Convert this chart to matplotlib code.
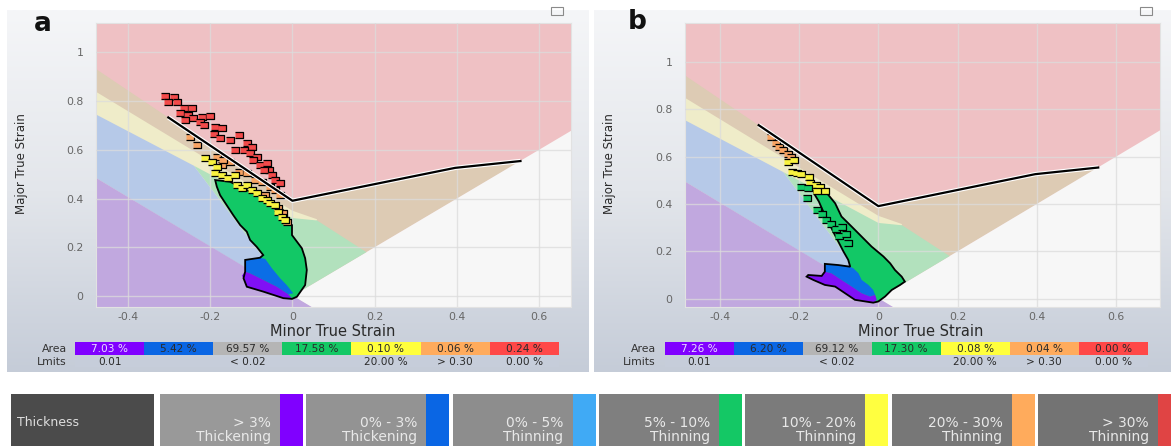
import numpy as np
import matplotlib.pyplot as plt
from matplotlib.patches import Polygon, Rectangle
from matplotlib.colors import LinearSegmentedColormap

W, H = 1171, 446

# ---------------- data ----------------
xticks = [-0.4, -0.2, 0.0, 0.2, 0.4, 0.6]
xtick_labels = ["-0.4", "-0.2", "0", "0.2", "0.4", "0.6"]
yticks = [0.0, 0.2, 0.4, 0.6, 0.8, 1.0]
ytick_labels = ["0", "0.2", "0.4", "0.6", "0.8", "1"]

# forming limit curve (minor, major)
flc_minor = [-0.302, 0.0, 0.396, 0.555]
flc_major = [0.733, 0.391, 0.526, 0.554]

# FLD zones (minor, major) polygons
zone_tan = [(-0.6, 1.07), (0.0, 0.391), (0.396, 0.526), (0.555, 0.554), (0.0, 0.0), (-0.6, -0.2)]
zone_white = [(0.0, 0.0), (0.9, 0.9), (0.9, -0.2), (0.2, -0.2)]
zone_yellow = [(-0.6, 0.963), (0.0, 0.35), (0.06, 0.315), (0.0, 0.0), (-0.6, 0.0)]
zone_green = [(-0.24, 0.535), (0.0, 0.32), (0.06, 0.31), (0.18, 0.18), (0.0, 0.0)]
zone_blue = [(-0.6, 0.853), (-0.24, 0.535), (0.0, 0.0), (-0.6, 0.608)]
zone_purple = [(-0.6, 0.608), (0.2, -0.2), (-0.6, -0.2)]

# panel a: measured strain cloud
blob_a = [(-0.188, 0.476), (-0.152, 0.469), (-0.103, 0.428), (-0.070, 0.401), (-0.038, 0.373),
          (-0.018, 0.346), (-0.014, 0.305), (-0.001, 0.291), (-0.001, 0.250), (0.011, 0.223),
          (0.023, 0.196), (0.031, 0.155), (0.035, 0.107), (0.031, 0.045), (0.011, -0.003),
          (-0.001, -0.012), (-0.022, -0.009), (-0.071, 0.018), (-0.111, 0.038), (-0.119, 0.073),
          (-0.115, 0.100), (-0.115, 0.148), (-0.079, 0.157), (-0.071, 0.168), (-0.087, 0.202),
          (-0.103, 0.230), (-0.111, 0.264), (-0.127, 0.291), (-0.144, 0.332), (-0.160, 0.373),
          (-0.176, 0.414), (-0.184, 0.449)]
blue_a = [(-0.115, 0.148), (-0.079, 0.157), (-0.066, 0.152), (-0.050, 0.114), (-0.030, 0.073),
          (-0.014, 0.045), (0.002, 0.011), (-0.010, 0.007), (-0.038, 0.038), (-0.071, 0.066),
          (-0.103, 0.093), (-0.115, 0.100)]
purple_a = [(-0.115, 0.100), (-0.103, 0.093), (-0.071, 0.066), (-0.038, 0.038), (-0.010, 0.007),
            (-0.001, -0.010), (-0.022, -0.009), (-0.071, 0.018), (-0.111, 0.038), (-0.119, 0.073),
            (-0.123, 0.083)]
red_a_minor = [-0.310, -0.289, -0.281, -0.302, -0.265, -0.245, -0.273, -0.253, -0.241, -0.261,
               -0.220, -0.200, -0.225, -0.216, -0.188, -0.172, -0.192, -0.176, -0.151, -0.131,
               -0.111, -0.099, -0.119, -0.139, -0.103, -0.086, -0.095, -0.078, -0.062, -0.058,
               -0.070, -0.050, -0.042, -0.030]
red_a_major = [0.822, 0.818, 0.797, 0.797, 0.770, 0.770, 0.750, 0.743, 0.729, 0.722,
               0.736, 0.740, 0.715, 0.702, 0.695, 0.688, 0.667, 0.647, 0.640, 0.661,
               0.627, 0.613, 0.599, 0.599, 0.585, 0.572, 0.558, 0.537, 0.544, 0.517,
               0.517, 0.496, 0.476, 0.462]
orange_a_minor = [-0.249, -0.232, -0.184, -0.172, -0.151, -0.131, -0.111, -0.091, -0.075,
                  -0.054, -0.042, -0.030, -0.066, -0.034, -0.022, -0.014, -0.168]
orange_a_major = [0.654, 0.620, 0.572, 0.537, 0.551, 0.510, 0.503, 0.476, 0.469,
                  0.449, 0.435, 0.414, 0.414, 0.360, 0.339, 0.305, 0.558]
yellow_a_minor = [-0.212, -0.196, -0.184, -0.188, -0.172, -0.156, -0.139, -0.135, -0.123, -0.111,
                  -0.099, -0.086, -0.075, -0.062, -0.054, -0.042, -0.034, -0.026, -0.018]
yellow_a_major = [0.565, 0.551, 0.531, 0.503, 0.496, 0.483, 0.496, 0.455, 0.442, 0.455,
                  0.435, 0.421, 0.401, 0.394, 0.380, 0.373, 0.346, 0.325, 0.312]

# panel b: measured strain cloud
blob_b = [(-0.164, 0.456), (-0.139, 0.459), (-0.126, 0.438), (-0.109, 0.403), (-0.093, 0.347),
          (-0.067, 0.304), (-0.042, 0.262), (-0.017, 0.220), (0.013, 0.178), (0.030, 0.149),
          (0.042, 0.121), (0.059, 0.093), (0.067, 0.072), (0.055, 0.058), (0.034, 0.037),
          (0.017, 0.009), (0.000, -0.012), (-0.013, -0.017), (-0.059, -0.005), (-0.084, 0.023),
          (-0.109, 0.051), (-0.135, 0.058), (-0.164, 0.079), (-0.181, 0.093), (-0.177, 0.100),
          (-0.143, 0.096), (-0.135, 0.114), (-0.135, 0.147), (-0.101, 0.142), (-0.071, 0.135),
          (-0.076, 0.164), (-0.088, 0.199), (-0.101, 0.241), (-0.114, 0.283), (-0.126, 0.325),
          (-0.139, 0.368), (-0.150, 0.410), (-0.160, 0.438)]
blue_b = [(-0.135, 0.147), (-0.101, 0.142), (-0.071, 0.135), (-0.063, 0.128), (-0.050, 0.107),
          (-0.042, 0.079), (-0.025, 0.058), (-0.013, 0.037), (-0.008, 0.016), (-0.021, 0.009),
          (-0.042, 0.023), (-0.067, 0.051), (-0.093, 0.079), (-0.118, 0.107), (-0.135, 0.114)]
purple_b = [(-0.181, 0.093), (-0.177, 0.100), (-0.143, 0.096), (-0.135, 0.114), (-0.118, 0.107),
            (-0.093, 0.079), (-0.067, 0.051), (-0.042, 0.023), (-0.021, 0.009), (-0.008, 0.016),
            (-0.004, -0.005), (-0.013, -0.017), (-0.059, -0.005), (-0.084, 0.023), (-0.109, 0.051),
            (-0.135, 0.058), (-0.164, 0.079)]
orange_b_minor = [-0.271, -0.259, -0.251, -0.240, -0.229, -0.221]
orange_b_major = [0.682, 0.659, 0.642, 0.628, 0.611, 0.597]
yellow_b_minor = [-0.227, -0.212, -0.219, -0.206, -0.195, -0.175, -0.172, -0.158, -0.146, -0.135, -0.155]
yellow_b_major = [0.579, 0.586, 0.537, 0.532, 0.527, 0.516, 0.490, 0.479, 0.471, 0.456, 0.456]
green_b_minor = [-0.194, -0.177, -0.181, -0.156, -0.143, -0.133, -0.119, -0.108, -0.091, -0.099, -0.082, -0.076]
green_b_major = [0.473, 0.466, 0.424, 0.375, 0.358, 0.333, 0.316, 0.293, 0.302, 0.265, 0.273, 0.237]

# thickness tables
area_a = [7.03, 5.42, 69.57, 17.58, 0.10, 0.06, 0.24]
area_b = [7.26, 6.20, 69.12, 17.30, 0.08, 0.04, 0.00]
limit_text = ["0.01", "", "< 0.02", "", "20.00 %", "> 0.30", "0.00 %"]

legend_top = ["> 3%", "0% - 3%", "0% - 5%", "5% - 10%", "10% - 20%", "20% - 30%", "> 30%"]
legend_bottom = ["Thickening", "Thickening", "Thinning", "Thinning", "Thinning", "Thinning", "Thinning"]

# ---------------- styles ----------------
C_PINK, C_TAN, C_YEL, C_GRN = "#efc1c4", "#ddcbb4", "#efecc9", "#b2e1bd"
C_BLUE, C_PURP, C_WHITE = "#b6c9e8", "#c1a8df", "#f7f7f7"
cell_colors = ["#8000ff", "#0a66e4", "#b5b5b5", "#14c865", "#ffff3c", "#ffab5c", "#ff4848"]
strip_colors = ["#8000ff", "#0a66e4", "#40aaf5", "#14c865", "#ffff40", "#ffab5c", "#e04444"]
box_grays = ["#999999", "#939393", "#8d8d8d", "#7f7f7f", "#7b7b7b", "#777777", "#737373"]
cell_marker = [(-1.2, -1), (1.2, -1), (1.2, 1), (-1.2, 1)]

fig = plt.figure(figsize=(W / 100, H / 100), dpi=100)

ov = fig.add_axes([0, 0, 1, 1])
ov.set_zorder(0)
ov.axis("off")

bg = LinearSegmentedColormap.from_list("bg", ["#f5f6f8", "#e3e6eb", "#c5ccd8"])
grad = np.linspace(0, 1, 256)[:, None]
ov.imshow(grad, extent=(7, 589, 372, 10), aspect="auto", cmap=bg)
ov.imshow(grad, extent=(594, 1171, 372, 10), aspect="auto", cmap=bg)
ov.set_xlim(0, W)
ov.set_ylim(H, 0)


def px_rect(l, t, w, h):
    return [l / W, 1 - (t + h) / H, w / W, h / H]


def draw_panel(rect, xlim, ylim, blob, blue, purple, squares):
    ax = fig.add_axes(px_rect(*rect))
    ax.set_zorder(1)
    ax.set_facecolor(C_PINK)
    for poly, col in [(zone_tan, C_TAN), (zone_white, C_WHITE), (zone_yellow, C_YEL),
                      (zone_green, C_GRN), (zone_blue, C_BLUE), (zone_purple, C_PURP)]:
        ax.add_patch(Polygon(poly, closed=True, fc=col, ec="none", zorder=0))
    ax.set_xticks(xticks)
    ax.set_xticklabels(xtick_labels)
    ax.set_yticks(yticks)
    ax.set_yticklabels(ytick_labels)
    ax.grid(True, color="#dcdcdc", lw=1.0, alpha=0.75, zorder=1)
    ax.set_axisbelow(False)
    ax.tick_params(length=0, labelsize=7.8, labelcolor="#666666")
    ax.tick_params(axis="x", pad=4)
    ax.tick_params(axis="y", pad=9)
    for s in ax.spines.values():
        s.set_color("#e2e2e2")

    ax.add_patch(Polygon(blob, closed=True, fc="#12c866", ec="none", zorder=3))
    ax.add_patch(Polygon(blue, closed=True, fc="#0b6ee6", ec="none", zorder=3))
    ax.add_patch(Polygon(purple, closed=True, fc="#8010f5", ec="none", zorder=3))
    ax.add_patch(Polygon(blob, closed=True, fill=False, ec="black", lw=1.3, zorder=3.5))
    for mx, my, col in squares:
        ax.scatter(mx, my, marker=cell_marker, s=28, c=col, edgecolors="black", linewidths=0.9, zorder=4)

    ax.plot(flc_minor, flc_major, color="white", lw=3.2, zorder=5, solid_capstyle="butt")
    ax.plot(flc_minor, flc_major, color="black", lw=1.6, zorder=6)
    ax.set_xlim(*xlim)
    ax.set_ylim(*ylim)
    return ax


draw_panel((96, 22.7, 475, 284), (-0.478, 0.678), (-0.044, 1.122), blob_a, blue_a, purple_a,
           [(red_a_minor, red_a_major, "#f24a4a"), (orange_a_minor, orange_a_major, "#f9a464"),
            (yellow_a_minor, yellow_a_major, "#f8f240")])
draw_panel((685, 22.7, 475, 284), (-0.488, 0.711), (-0.034, 1.166), blob_b, blue_b, purple_b,
           [(orange_b_minor, orange_b_major, "#f9a464"), (yellow_b_minor, yellow_b_major, "#f8f240"),
            (green_b_minor, green_b_major, "#12c866")])

# panel letters, axis labels, small icons
ov.text(43, 24, "a", fontsize=19, fontweight="bold", ha="center", va="center", color="#111111")
ov.text(637, 22, "b", fontsize=19, fontweight="bold", ha="center", va="center", color="#111111")
for cx, cy in [(333, 331), (921, 331)]:
    ov.text(cx, cy, "Minor True Strain", fontsize=10.5, ha="center", va="center", color="#2a2a2a")
for cx, cy in [(22, 164), (610, 164)]:
    ov.text(cx, cy, "Major True Strain", fontsize=8.5, ha="center", va="center", rotation=90, color="#2a2a2a")
for ix in [551, 1140]:
    ov.add_patch(Rectangle((ix, 7), 12, 8, fc="none", ec="#8a8a8a", lw=0.8))

# area / limits tables
for x0, cw, lab_x, area, lim_lab in [(75, 69.1, 67, area_a, "Lmits"), (664.6, 69.0, 656, area_b, "Limits")]:
    ov.text(lab_x, 348.5, "Area", fontsize=7.8, ha="right", va="center", color="#333333")
    ov.text(lab_x, 362, lim_lab, fontsize=7.8, ha="right", va="center", color="#333333")
    ov.add_patch(Rectangle((x0, 356.7), cw * 7, 10.6, fc="#c6cdda", ec="none"))
    for i, v in enumerate(area):
        ov.add_patch(Rectangle((x0 + i * cw, 341.7), cw, 13.3, fc=cell_colors[i], ec="none"))
        tc = "#eadcff" if i == 0 else "#2a2a2a"
        ov.text(x0 + (i + 0.5) * cw, 348.5, f"{v:.2f} %", fontsize=7.6, ha="center", va="center", color=tc)
        if limit_text[i]:
            ov.text(x0 + (i + 0.5) * cw, 362, limit_text[i], fontsize=7.6, ha="center", va="center",
                    color="#2a2a2a")

# thickness legend bar
ov.add_patch(Rectangle((10.5, 393.5), 143, 60, fc="#4b4b4b", ec="none"))
ov.text(17, 423, "Thickness", fontsize=9, ha="left", va="center", color="#dedede")
for i in range(7):
    left = 160 + i * 146.3
    ov.add_patch(Rectangle((left, 393.5), 143, 60, fc=box_grays[i], ec="none"))
    ov.add_patch(Rectangle((left + 120, 393.5), 23, 60, fc=strip_colors[i], ec="none"))
    ov.text(left + 111, 423, legend_top[i], fontsize=10, ha="right", va="center", color="#e8e8e8")
    ov.text(left + 111, 437, legend_bottom[i], fontsize=10, ha="right", va="center", color="#e8e8e8")

fig.savefig("out.png", dpi=100, facecolor="white")
